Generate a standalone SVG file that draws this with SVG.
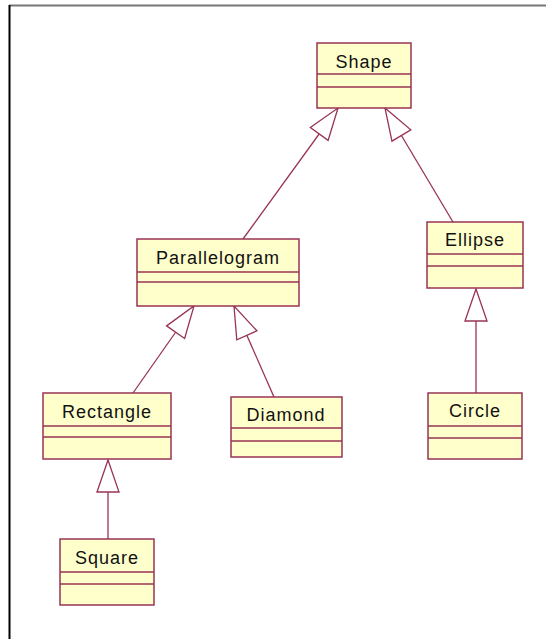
<svg xmlns="http://www.w3.org/2000/svg" width="546" height="639" viewBox="0 0 546 639">
<style>
.box{fill:#FFFFCC;stroke:#993355;stroke-width:1.5}
.div{stroke:#993355;stroke-width:1.5}
.lbl{font-family:"Liberation Sans",Arial,sans-serif;font-size:18px;letter-spacing:1px;fill:#111;text-anchor:middle}
.gen{stroke:#993355;stroke-width:1.3;fill:none;marker-end:url(#tri)}
</style>
<defs>
<marker id="tri" viewBox="0 0 33 24" refX="33" refY="12" markerWidth="33" markerHeight="24" markerUnits="userSpaceOnUse" orient="auto" overflow="visible">
<path d="M1,1 L33,12 L1,23 Z" fill="#ffffff" stroke="#993355" stroke-width="1.3"/>
</marker>
</defs>
<rect x="0" y="0" width="546" height="639" fill="#ffffff"/>
<line x1="9" y1="5.5" x2="546" y2="5.5" stroke="#777" stroke-width="2"/>
<line x1="9.5" y1="5" x2="9.5" y2="639" stroke="#000" stroke-width="2"/>
<g id="connectors">
<line class="gen" x1="243" y1="239" x2="338" y2="108"/>
<line class="gen" x1="453" y1="222" x2="385" y2="108"/>
<line class="gen" x1="133" y1="393" x2="194" y2="306"/>
<line class="gen" x1="274" y1="397" x2="234" y2="306"/>
<line class="gen" x1="476" y1="393" x2="476" y2="289"/>
<line class="gen" x1="108" y1="539" x2="108" y2="460"/>
</g>
<g id="Shape">
<rect class="box" x="317" y="43" width="94" height="65"/>
<line class="div" x1="317" y1="74" x2="411" y2="74"/>
<line class="div" x1="317" y1="87" x2="411" y2="87"/>
<text class="lbl" x="364" y="68">Shape</text>
</g>
<g id="Parallelogram">
<rect class="box" x="137" y="239" width="162" height="67"/>
<line class="div" x1="137" y1="272" x2="299" y2="272"/>
<line class="div" x1="137" y1="282" x2="299" y2="282"/>
<text class="lbl" x="218" y="264">Parallelogram</text>
</g>
<g id="Ellipse">
<rect class="box" x="427" y="222" width="96" height="66"/>
<line class="div" x1="427" y1="254" x2="523" y2="254"/>
<line class="div" x1="427" y1="266" x2="523" y2="266"/>
<text class="lbl" x="475" y="246">Ellipse</text>
</g>
<g id="Rectangle">
<rect class="box" x="43" y="393" width="128" height="66"/>
<line class="div" x1="43" y1="426" x2="171" y2="426"/>
<line class="div" x1="43" y1="437" x2="171" y2="437"/>
<text class="lbl" x="107" y="418">Rectangle</text>
</g>
<g id="Diamond">
<rect class="box" x="231" y="397" width="111" height="60"/>
<line class="div" x1="231" y1="428" x2="342" y2="428"/>
<line class="div" x1="231" y1="441" x2="342" y2="441"/>
<text class="lbl" x="286" y="421">Diamond</text>
</g>
<g id="Circle">
<rect class="box" x="428" y="393" width="94" height="66"/>
<line class="div" x1="428" y1="426" x2="522" y2="426"/>
<line class="div" x1="428" y1="438" x2="522" y2="438"/>
<text class="lbl" x="475" y="417">Circle</text>
</g>
<g id="Square">
<rect class="box" x="60" y="539" width="94" height="66"/>
<line class="div" x1="60" y1="572" x2="154" y2="572"/>
<line class="div" x1="60" y1="584" x2="154" y2="584"/>
<text class="lbl" x="107" y="564">Square</text>
</g>
</svg>
